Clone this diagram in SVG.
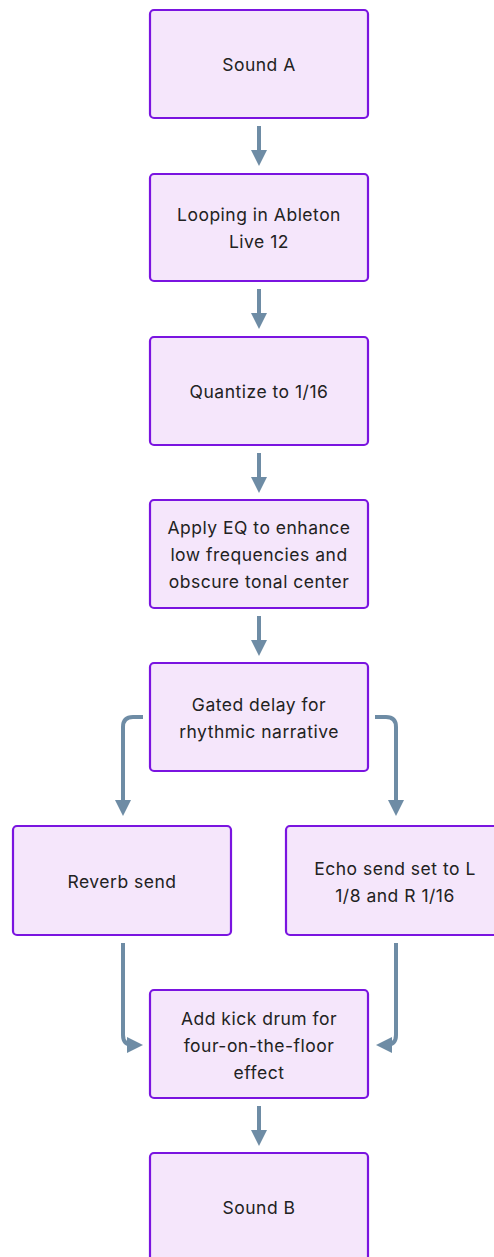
<svg xmlns="http://www.w3.org/2000/svg" width="494" height="1257" viewBox="0 0 494 1257">
<defs>
<style>
.box{fill:#f5e6fb;stroke:#7a14e0;stroke-width:2.2}
.t{font-family:Inter,"Noto Sans","DejaVu Sans",sans-serif;font-size:17.5px;letter-spacing:0.5px;fill:#222;text-anchor:middle;dominant-baseline:central}
.c{fill:none;stroke:#6e8ca5;stroke-width:4}
</style>
<marker id="ah" viewBox="0 0 10 10" refX="5" refY="5" markerWidth="4" markerHeight="4" markerUnits="strokeWidth" orient="auto"><path d="M0,0 L10,5 L0,10 z" fill="#6e8ca5"/></marker>
</defs>
<g id="connectors">
<path class="c" d="M259,126 V158" marker-end="url(#ah)"/>
<path class="c" d="M259,289 V321" marker-end="url(#ah)"/>
<path class="c" d="M259,453 V485" marker-end="url(#ah)"/>
<path class="c" d="M259,616 V648" marker-end="url(#ah)"/>
<path class="c" d="M143,717 H133 Q123,717 123,727 V808" marker-end="url(#ah)"/>
<path class="c" d="M375,717 H386 Q396,717 396,727 V808" marker-end="url(#ah)"/>
<path class="c" d="M123,943 V1035 Q123,1045 133,1045 H135" marker-end="url(#ah)"/>
<path class="c" d="M396,943 V1035 Q396,1045 386,1045 H384" marker-end="url(#ah)"/>
<path class="c" d="M259,1106 V1138" marker-end="url(#ah)"/>
</g>
<g id="n1"><rect class="box" x="150" y="10" width="218" height="108" rx="4"/><text class="t" x="259" y="64">Sound A</text></g>
<g id="n2"><rect class="box" x="150" y="174" width="218" height="107" rx="4"/><text class="t" x="259" y="214">Looping in Ableton</text><text class="t" x="259" y="241">Live 12</text></g>
<g id="n3"><rect class="box" x="150" y="337" width="218" height="108" rx="4"/><text class="t" x="259" y="391">Quantize to 1/16</text></g>
<g id="n4"><rect class="box" x="150" y="500" width="218" height="108" rx="4"/><text class="t" x="259" y="527">Apply EQ to enhance</text><text class="t" x="259" y="554">low frequencies and</text><text class="t" x="259" y="581">obscure tonal center</text></g>
<g id="n5"><rect class="box" x="150" y="663" width="218" height="108" rx="4"/><text class="t" x="259" y="704">Gated delay for</text><text class="t" x="259" y="731">rhythmic narrative</text></g>
<g id="n6"><rect class="box" x="13" y="826" width="218" height="109" rx="4"/><text class="t" x="122" y="881">Reverb send</text></g>
<g id="n7"><rect class="box" x="286" y="826" width="218" height="109" rx="4"/><text class="t" x="395" y="868">Echo send set to L</text><text class="t" x="395" y="895">1/8 and R 1/16</text></g>
<g id="n8"><rect class="box" x="150" y="990" width="218" height="108" rx="4"/><text class="t" x="259" y="1018">Add kick drum for</text><text class="t" x="259" y="1045">four-on-the-floor</text><text class="t" x="259" y="1072">effect</text></g>
<g id="n9"><rect class="box" x="150" y="1153" width="218" height="108" rx="4"/><text class="t" x="259" y="1207">Sound B</text></g>
</svg>
